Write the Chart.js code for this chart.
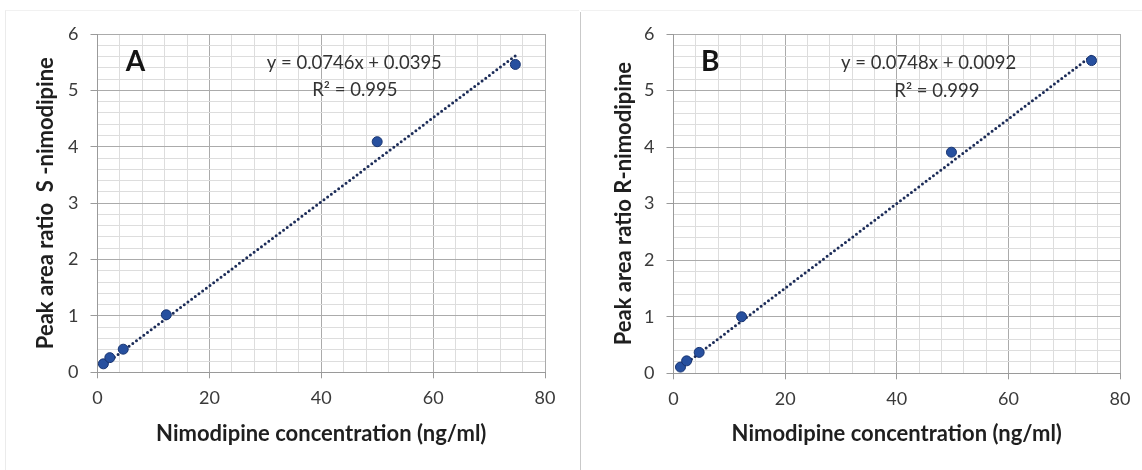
<!DOCTYPE html>
<html><head><meta charset="utf-8">
<script src="https://cdn.jsdelivr.net/npm/chart.js@4.4.1/dist/chart.umd.min.js"></script>
<style>
html,body{margin:0;padding:0;background:#fff;width:1142px;height:470px;overflow:hidden;position:relative}
.box{position:absolute;top:0;height:470px}
</style></head><body>
<div style="position:absolute;left:5px;top:10px;width:573px;height:460px;border-left:1px solid #ebebeb;border-top:1px solid #f1f1f1"></div>
<div style="position:absolute;left:581px;top:10px;width:561px;height:1px;background:#f1f1f1"></div>
<div style="position:absolute;left:580px;top:12px;width:1px;height:458px;background:#c9c9c9"></div>
<div class="box" style="left:0;width:578px"><canvas id="cA"></canvas></div>
<div class="box" style="left:578px;width:564px"><canvas id="cB"></canvas></div>
<script>
// ---- data ----
const concA  = [1.05, 2.2, 4.6, 12.3, 50, 74.7];
const ratioA = [0.15, 0.26, 0.41, 1.02, 4.09, 5.46];
const concB  = [1.25, 2.35, 4.6, 12.2, 49.8, 74.9];
const ratioB = [0.11, 0.22, 0.37, 1.0, 3.91, 5.53];
const fitA = [0.0746, 0.0395];   // slope, intercept (from the printed equation)
const fitB = [0.0748, 0.0092];
const xTickLabels = [0, 20, 40, 60, 80];
const yTickLabels = [0, 1, 2, 3, 4, 5, 6];
const panelLabels = ['A', 'B'];
const eqTexts = ['y = 0.0746x + 0.0395', 'y = 0.0748x + 0.0092'];
const r2Texts = ['R\u00B2 = 0.995', 'R\u00B2 = 0.999'];
const yTitles = ['Peak area ratio  S -nimodipine', 'Peak area ratio R-nimodipine'];
const xTitle = 'Nimodipine concentration (ng/ml)';

// ---- layout (positions / sizes) ----
const layouts = [
  {axisW: 97.5, axisH: 97.7, padRight: 33, label: [6.8, 5.5], eq: [45.9, 5.48], r2: [46.0, 5.0]},
  {axisW: 95.5, axisH: 96.7, padRight: 22, label: [6.6, 5.5], eq: [45.7, 5.48], r2: [47.2, 5.0]}
];
const FONT = 'Lato';
const near = (arr, v) => arr.some(t => Math.abs(t - v) < 1e-6);

function textPlugin(idx, lay) {
  return {
    id: 'txt' + idx,
    afterDatasetsDraw(chart) {
      const {ctx, scales: {x, y}} = chart;
      ctx.save();
      ctx.textAlign = 'center';
      ctx.textBaseline = 'middle';
      ctx.fillStyle = '#141414';
      ctx.font = 'bold 28px ' + FONT;
      ctx.fillText(panelLabels[idx], x.getPixelForValue(lay.label[0]), y.getPixelForValue(lay.label[1]));
      ctx.fillStyle = '#333333';
      ctx.font = '18.5px ' + FONT;
      ctx.fillText(eqTexts[idx], x.getPixelForValue(lay.eq[0]), y.getPixelForValue(lay.eq[1]));
      ctx.fillText(r2Texts[idx], x.getPixelForValue(lay.r2[0]), y.getPixelForValue(lay.r2[1]));
      ctx.restore();
    }
  };
}

function makeChart(id, xs, ys, fit, idx) {
  const lay = layouts[idx];
  const pts = xs.map((x, i) => ({x: x, y: ys[i]}));
  const x0 = Math.min(...xs), x1 = Math.max(...xs);
  const trend = [{x: x0, y: fit[0] * x0 + fit[1]}, {x: x1, y: fit[0] * x1 + fit[1]}];
  return new Chart(document.getElementById(id), {
    type: 'scatter',
    data: {datasets: [
      {data: trend, showLine: true, borderColor: '#1c2c58', borderWidth: 3,
       borderDash: [0, 4.6], borderCapStyle: 'round', pointRadius: 0, fill: false, order: 2},
      {data: pts, pointRadius: 5, pointBackgroundColor: '#27509f', pointBorderColor: '#1a3672',
       pointBorderWidth: 1, order: 1}
    ]},
    options: {
      responsive: true, maintainAspectRatio: false, animation: false,
      layout: {padding: {top: 34, right: lay.padRight, bottom: 0, left: 0}},
      plugins: {legend: {display: false}, tooltip: {enabled: false}},
      scales: {
        x: {
          type: 'linear', position: 'bottom', min: 0, max: 80,
          afterFit: s => { s.height = lay.axisH; },
          ticks: {stepSize: 4, autoSkip: false, maxRotation: 0, padding: 9, color: '#3a3a3a',
                  font: {family: FONT, size: 18},
                  callback: v => near(xTickLabels, v) ? String(Math.round(v)) : ''},
          grid: {color: c => (c.tick && near(xTickLabels, c.tick.value)) ? '#ababab' : '#dddddd',
                 tickColor: c => (c.tick && near(xTickLabels, c.tick.value)) ? '#9a9a9a' : 'rgba(0,0,0,0)',
                 tickLength: 6, lineWidth: 1},
          border: {color: '#9a9a9a', width: 1},
          title: {display: true, text: xTitle, color: '#1f1f1f',
                  font: {family: FONT, size: 22, weight: 'bold'}, padding: {top: 0, bottom: 23}}
        },
        y: {
          type: 'linear', min: 0, max: 6,
          afterFit: s => { s.width = lay.axisW; },
          ticks: {stepSize: 0.2, autoSkip: false, padding: 12, color: '#3a3a3a',
                  font: {family: FONT, size: 18},
                  callback: v => near(yTickLabels, v) ? String(Math.round(v)) : ''},
          grid: {color: c => (c.tick && near(yTickLabels, c.tick.value)) ? '#ababab' : '#dddddd',
                 tickColor: c => (c.tick && near(yTickLabels, c.tick.value)) ? '#9a9a9a' : 'rgba(0,0,0,0)',
                 tickLength: 7, lineWidth: 1},
          border: {color: '#9a9a9a', width: 1},
          title: {display: true, text: yTitles[idx], color: '#1f1f1f',
                  font: {family: FONT, size: 22, weight: 'bold'}, padding: {top: 33, bottom: 0}}
        }
      }
    },
    plugins: [textPlugin(idx, lay)]
  });
}

function draw() {
  makeChart('cA', concA, ratioA, fitA, 0);
  makeChart('cB', concB, ratioB, fitB, 1);
}
const fl = document.fonts ? Promise.all([
  document.fonts.load('18px Lato'), document.fonts.load('bold 22px Lato')
]).catch(() => {}) : Promise.resolve();
fl.then(draw, draw);
</script>
</body></html>
